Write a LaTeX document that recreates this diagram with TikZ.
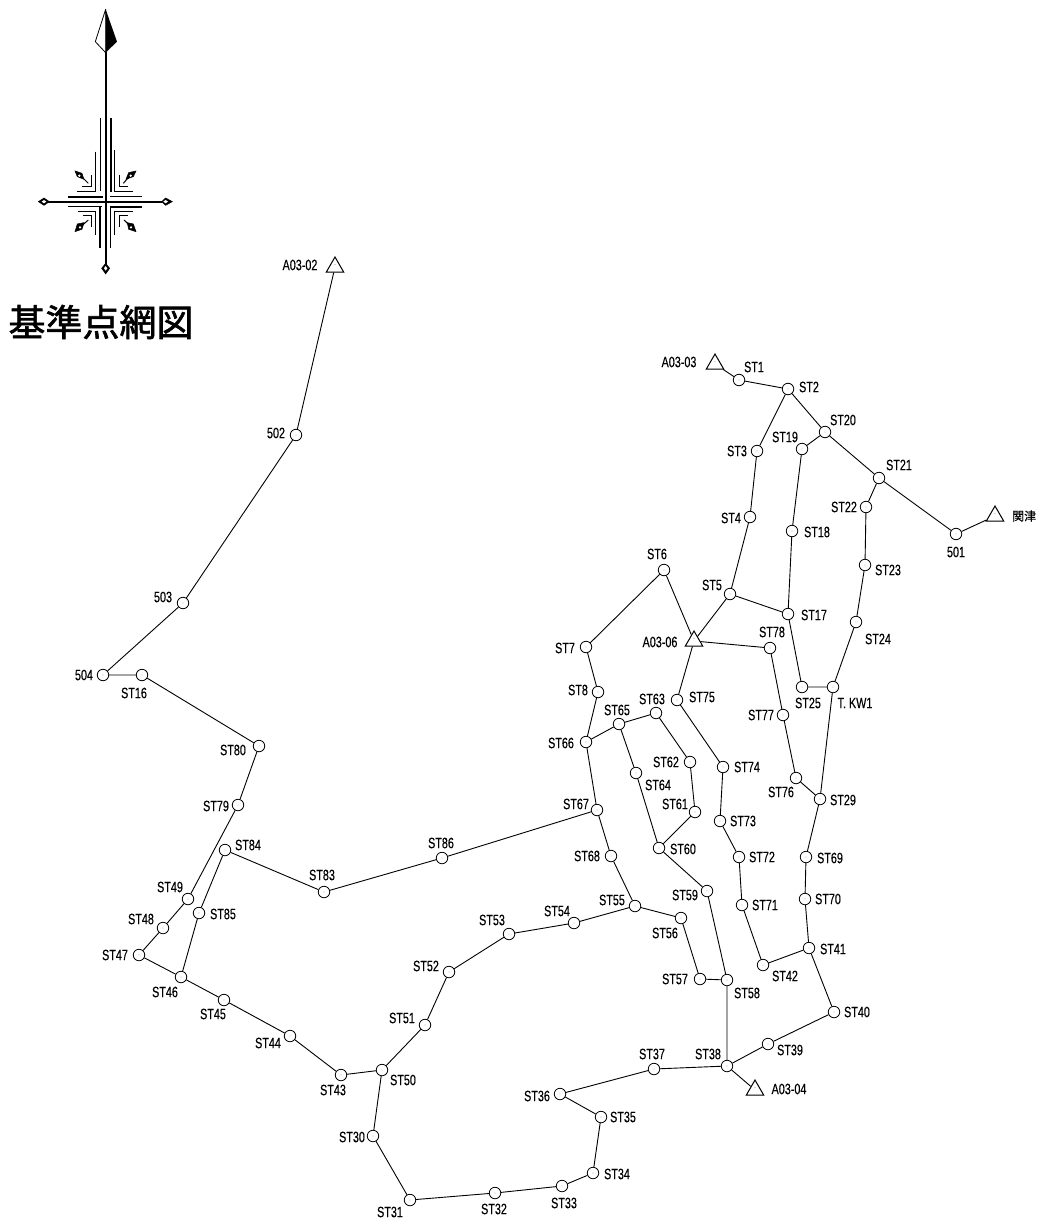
\documentclass[tikz,border=0pt]{standalone}
\usepackage{fontspec}
\setmainfont[FakeStretch=0.72,FakeBold=0.3]{Liberation Sans}
\newfontfamily\cjk[FakeBold=0.6]{Noto Sans CJK JP}
\newfontfamily\cjktitle[FakeBold=1.6]{Noto Sans CJK JP}
\usetikzlibrary{shapes.geometric}
\tikzset{
  x=1pt,y=-1pt,
  stn/.style={circle,draw,line width=0.8pt,minimum size=11.5pt,inner sep=0pt,fill=white,
    path picture={\fill[black!70] (path picture bounding box.center) circle (0.45pt);}},
  tri/.style={regular polygon,regular polygon sides=3,draw,line width=1pt,minimum size=20pt,inner sep=0pt,fill=white,
    path picture={\fill[black!70] (path picture bounding box.center) circle (0.45pt);}},
  lab/.style={font=\fontsize{15}{15}\selectfont,inner sep=0pt},
  link/.style={line width=0.9pt},
  cmain/.style={line width=1.9pt},
  cthick/.style={line width=1.8pt},
  cthin/.style={line width=1pt},
  tipd/.style={fill=black,draw=black,line width=0.5pt},
  tipw/.style={fill=white,draw=black,line width=0.8pt}
}
\begin{document}
\begin{tikzpicture}
\useasboundingbox (0,0) rectangle (1036,1223);
\clip (0,0) rectangle (1036,1223);
% stations
\foreach \n/\x/\y/\lx/\ly in {
ST1/739/380/754/367,ST2/788/389/809/387,ST3/757/451/737/451,ST4/750/517/731/518,ST5/730/594/712/585,ST6/664/570/657/554,
ST7/586/647/565/648,ST8/598/692/578/690,ST66/586/742/561/743,ST65/619/724/617/710,ST63/656/713/652/699,ST62/690/762/666/762,
ST61/695/812/675/804,ST60/659/848/683/849,ST64/636/773/658/785,ST67/597/810/576/804,ST68/611/856/587/856,ST55/635/906/612/900,
ST56/681/918/665/933,ST57/700/979/675/979,ST58/727/980/747/993,ST59/707/891/685/895,ST38/727/1066/708/1054,ST39/768/1044/790/1050,
ST40/834/1012/857/1012,ST41/809/948/833/949,ST42/763/965/785/976,ST71/742/905/765/905,ST72/739/857/762/857,ST73/720/821/743/821,
ST74/723/767/747/767,ST75/677/700/702/697,ST78/770/648/772/632,ST77/783/715/761/715,ST76/796/778/781/792,ST29/820/799/843/800,
ST25/802/687/808/703,ST17/788/614/814/615,ST18/792/531/817/532,ST19/802/449/785/437,ST20/825/432/843/420,ST21/879/478/899/465,
ST22/866/507/844/507,ST23/865/565/888/570,ST24/856/622/878/639,501/956/534/956/552,ST69/806/857/830/858,ST70/805/899/828/899,
502/296/435/276/433,503/183/603/163/597,504/103/675/84/675,ST16/142/675/134/693,ST80/259/746/233/750,ST79/238/805/216/806,
ST49/188/899/170/887,ST48/163/928/141/919,ST47/139/955/115/955,ST46/181/977/165/992,ST85/199/913/223/914,ST84/225/850/248/845,
ST83/324/892/322/875,ST86/442/858/441/843,ST45/224/1000/213/1014,ST44/290/1036/268/1043,ST43/341/1075/333/1090,ST50/382/1070/403/1080,
ST51/425/1025/402/1018,ST52/449/972/426/966,ST53/509/934/492/920,ST54/574/923/557/911,ST30/373/1136/352/1137,ST31/410/1200/390/1212,
ST32/495/1193/494/1209,ST33/562/1186/564/1203,ST34/593/1173/617/1174,ST35/601/1117/623/1117,ST36/560/1094/537/1096,ST37/654/1069/652/1054}{
  \node[stn] (\n) at (\x,\y) {};
  \node[lab] (l\n) at (\lx,\ly) {\n};
}
\node[stn] (TKW1) at (833,687) {};
\node[lab] (lTKW1) at (855,703) {T. KW1};
% control points
\foreach \n/\x/\y/\lx/\ly in {A03-03/715/364/679/362,A03-04/755/1090/789/1089,A03-06/694/641/660/642,A03-02/335/267/300/265}{
  \node[tri] (\n) at (\x,\y) {};
  \node[lab] (l\n) at (\lx,\ly) {\n};
}
\node[tri] (SEKI) at (995,516) {};
\node[lab,anchor=west,font=\cjk\fontsize{12}{12}\selectfont] (lSEKI) at (1012,516) {関津};
% connectors
\draw[link] (A03-03)--(ST1)--(ST2)--(ST3)--(ST4)--(ST5)--(A03-06);
\draw[link] (ST5)--(ST17);
\draw[link] (ST2)--(ST20)--(ST21)--(501)--(SEKI);
\draw[link] (ST20)--(ST19)--(ST18)--(ST17)--(ST25)--(TKW1);
\draw[link] (ST21)--(ST22)--(ST23)--(ST24)--(TKW1)--(ST29)--(ST69)--(ST70)--(ST41)--(ST40)--(ST39)--(ST38);
\draw[link] (ST41)--(ST42)--(ST71)--(ST72)--(ST73)--(ST74)--(ST75)--(A03-06);
\draw[link] (A03-06)--(ST78)--(ST77)--(ST76)--(ST29);
\draw[link] (A03-06)--(ST6)--(ST7)--(ST8)--(ST66)--(ST67)--(ST68)--(ST55)--(ST56)--(ST57)--(ST58)--(ST38);
\draw[link] (ST66)--(ST65)--(ST63)--(ST62)--(ST61)--(ST60)--(ST59)--(ST58);
\draw[link] (ST65)--(ST64)--(ST60);
\draw[link] (ST67)--(ST86)--(ST83)--(ST84)--(ST85)--(ST46);
\draw[link] (ST55)--(ST54)--(ST53)--(ST52)--(ST51)--(ST50)--(ST30)--(ST31)--(ST32)--(ST33)--(ST34)--(ST35)--(ST36)--(ST37)--(ST38)--(A03-04);
\draw[link] (ST50)--(ST43)--(ST44)--(ST45)--(ST46)--(ST47)--(ST48)--(ST49)--(ST79)--(ST80)--(ST16)--(504)--(503)--(502)--(A03-02);
% compass, in 3x crop coordinates
\begin{scope}[shift={(20,0)},x=0.3333pt,y=-0.3333pt]
  \draw[cmain] (257,155)--(257,810);
  \draw[cmain] (60,605)--(450,605);
  \draw[tipw,line join=round] (257,28)--(226,125)--(257,158)--cycle;
  \fill[black] (257,28)--(291,125)--(257,158)--cycle;
  \draw[tipd] (257,790)--(269,805)--(257,822)--(245,805)--cycle;
  \fill[white] (257,798)--(262,805)--(257,812)--(252,805)--cycle;
  \draw[tipd] (55,605)--(72,594)--(88,605)--(72,616)--cycle;
  \fill[white] (65,605)--(72,600)--(79,605)--(72,610)--cycle;
  \draw[tipd] (425,605)--(437,594)--(457,605)--(437,616)--cycle;
  \fill[white] (430,605)--(437,600)--(444,605)--(437,610)--cycle;
  % long bars
  \draw[cthin] (242,355)--(242,572);
  \draw[cthick] (272,355)--(272,575);
  \draw[cthick] (241,622)--(241,745);
  \draw[cthin] (272,622)--(272,745);
  \draw[cthick] (145,590)--(250,590);
  \draw[cthin] (270,590)--(365,590);
  \draw[cthin] (145,620)--(245,620);
  \draw[cthick] (270,620)--(365,620);
  % corner brackets
  \draw[cthin] (228,455)--(228,575)--(172,575);
  \draw[cthin] (215,525)--(215,560)--(187,560);
  \draw[cthin] (285,450)--(285,575)--(340,575);
  \draw[cthin] (300,525)--(300,560)--(325,560);
  \draw[cthin] (228,705)--(228,635)--(175,635);
  \draw[cthin] (215,680)--(215,648)--(190,648);
  \draw[cthin] (285,705)--(285,635)--(340,635);
  \draw[cthin] (300,680)--(300,648)--(325,648);
  % small diagonal arrows
  \draw[cthin] (180,525)--(205,550);
  \draw[cthin] (332,525)--(310,550);
  \draw[cthin] (180,682)--(205,660);
  \draw[cthin] (335,682)--(312,660);
  \draw[tipd] (165,513)--(186,520)--(192,538)--(172,530)--cycle;
  \draw[tipd] (348,513)--(326,518)--(318,538)--(340,530)--cycle;
  \draw[tipd] (165,695)--(172,672)--(192,668)--(186,688)--cycle;
  \draw[tipd] (348,695)--(340,672)--(322,668)--(326,688)--cycle;
  \fill[white] (178,527) circle (1.3pt);
  \fill[white] (332,527) circle (1.3pt);
  \fill[white] (180,682) circle (1.3pt);
  \fill[white] (333,682) circle (1.3pt);
\end{scope}
\node[inner sep=0pt,font=\cjktitle\fontsize{37}{37}\selectfont] (title) at (101,322) {基準点網図};
\end{tikzpicture}
\end{document}
